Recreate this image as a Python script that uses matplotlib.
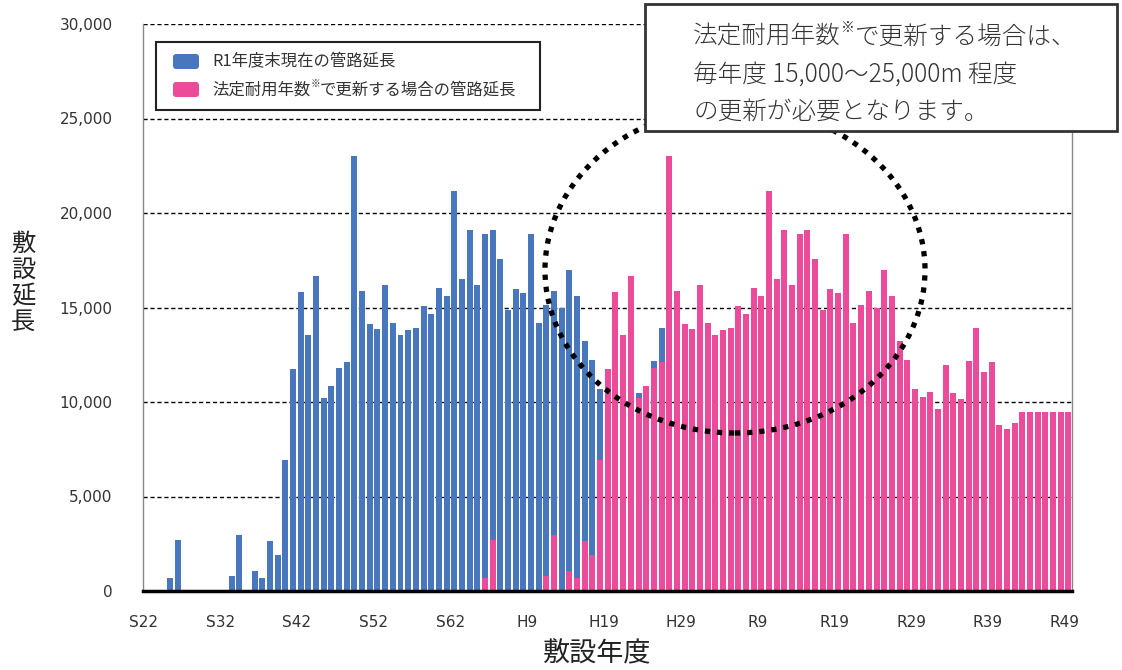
import matplotlib
matplotlib.use('Agg')
import matplotlib.pyplot as plt
from matplotlib.patches import Rectangle, Ellipse, FancyBboxPatch
from matplotlib.transforms import IdentityTransform
import numpy as np

plt.rcParams['font.family'] = ['DejaVu Sans', 'Noto Sans CJK JP']
CJK = ['Noto Sans CJK JP', 'DejaVu Sans']

# ---- data ----
tick_labels = ['S22', 'S32', 'S42', 'S52', 'S62', 'H9', 'H19', 'H29',
               'R9', 'R19', 'R29', 'R39', 'R49']

installed_r1 = [0, 0, 0, 700, 2690, 0, 60, 0, 0, 0,
                0, 770, 2970, 40, 1040, 670, 2640, 1880, 6930, 11770,
                15840, 13550, 16690, 10190, 10860, 11810, 12110, 23040, 15880, 14130,
                13870, 16190, 14190, 13550, 13830, 13900, 15080, 14660, 16020, 15610,
                21160, 16510, 19080, 16190, 18900, 19080, 17570, 14870, 15960, 15790,
                18890, 14200, 15150, 15860, 14980, 17000, 15590, 13220, 12210, 10680,
                10290, 10540, 9640, 11940, 10490, 10170, 12160, 13890, 11610, 12130,
                8780, 8570, 8870]

renewal = [0, 0, 0, 0, 0, 0, 0, 0, 0, 0,
           0, 0, 0, 0, 0, 0, 0, 0, 0, 0,
           0, 0, 0, 0, 0, 0, 0, 0, 0, 0,
           0, 0, 0, 0, 0, 0, 0, 0, 0, 0,
           0, 0, 0, 0, 700, 2690, 0, 60, 0, 0,
           0, 0, 770, 2970, 40, 1040, 670, 2640, 1880, 6930,
           11770, 15840, 13550, 16690, 10190, 10860, 11810, 12110, 23040, 15880,
           14130, 13870, 16190, 14190, 13550, 13830, 13900, 15080, 14660, 16020,
           15610, 21160, 16510, 19080, 16190, 18900, 19080, 17570, 14870, 15960,
           15790, 18890, 14200, 15150, 15860, 14980, 17000, 15590, 13220, 12210,
           10680, 10290, 10540, 9640, 11940, 10490, 10170, 12160, 13890, 11610,
           12130, 8780, 8570, 8870, 9450, 9450, 9450, 9450, 9450, 9450,
           9450]

legend_labels = ['R1年度末現在の管路延長', '法定耐用年数', '※', 'で更新する場合の管路延長']

BLUE = '#4877BD'
PINK = '#EC4A9A'

W, H = 1122, 670
fig = plt.figure(figsize=(W / 100, H / 100), dpi=100)
ax = fig.add_axes([143.3 / W, 1 - 591 / H, (1072.3 - 143.3) / W, (591 - 24) / H])

n = len(renewal)
x = np.arange(n)
ax.bar(x[:len(installed_r1)], installed_r1, width=0.78, color=BLUE, zorder=2, linewidth=0)
ax.bar(x, renewal, width=0.78, color=PINK, zorder=3, linewidth=0)

ax.set_xlim(-0.5, n - 0.5)
ax.set_ylim(0, 30000)
yt = list(range(0, 30001, 5000))
ax.set_yticks(yt)
ax.set_yticklabels([f'{v:,}' for v in yt])
for v in yt[1:]:
    ax.axhline(v, color='black', lw=1.0, ls=(0, (3, 2)), zorder=1)

ax.set_xticks(np.arange(0, n, 10) - 0.5)
ax.set_xticklabels(tick_labels)
ax.tick_params(length=0, labelsize=11, colors='#333333')
ax.tick_params(axis='x', pad=17)
ax.tick_params(axis='y', pad=22)

ax.spines['top'].set_visible(False)
ax.spines['left'].set_color('#888888')
ax.spines['right'].set_color('#888888')
ax.spines['left'].set_linewidth(1)
ax.spines['right'].set_linewidth(1)
ax.spines['bottom'].set_color('black')
ax.spines['bottom'].set_linewidth(2.5)
ax.spines['bottom'].set_zorder(5)

tr = IdentityTransform()


def Y(y):
    return H - y


# axis titles
fig.text(23, Y(283), '敷\n設\n延\n長', transform=tr, ha='center', va='center',
         fontsize=17.5, linespacing=1.0, family=CJK, color='#222222')
fig.text(597, Y(654), '敷設年度', transform=tr, ha='center', va='center',
         fontsize=19.5, family=CJK, color='#222222')

# legend box
fig.add_artist(Rectangle((156, Y(110)), 384, 68, transform=tr, facecolor='white',
                         edgecolor='#222222', lw=1.5, zorder=4))
fig.add_artist(FancyBboxPatch((173, Y(69)), 26, 15, boxstyle='round,pad=0,rounding_size=3',
                              transform=tr, facecolor=BLUE, edgecolor='none', zorder=5))
fig.add_artist(FancyBboxPatch((173, Y(97)), 26, 15, boxstyle='round,pad=0,rounding_size=3',
                              transform=tr, facecolor=PINK, edgecolor='none', zorder=5))
fig.text(212, Y(62), legend_labels[0], transform=tr, va='center', fontsize=11.8,
         family=CJK, color='#333333', zorder=6)
t1 = fig.text(212, Y(90), legend_labels[1], transform=tr, va='center', fontsize=11.8,
              family=CJK, color='#333333', zorder=6)
a2 = ax.annotate(legend_labels[2], xy=(1, 0.55), xycoords=t1, va='bottom', ha='left',
                 fontsize=7, family=CJK, color='#333333', annotation_clip=False)
a3 = ax.annotate(legend_labels[3], xy=(1, 0), xycoords=(a2, t1), va='bottom', ha='left',
                 fontsize=11.8, family=CJK, color='#333333', annotation_clip=False)
a2.remove(); a3.remove()
fig.add_artist(a2); fig.add_artist(a3)
a2.set_zorder(6); a3.set_zorder(6)

# ellipse highlighting the renewal peak
fig.add_artist(Ellipse((735, Y(270)), 380, 326, transform=tr, fill=False,
                       edgecolor='black', lw=3.8, ls=(0, (1.0, 1.3)), zorder=3))

# callout box
fig.add_artist(Rectangle((645, Y(131)), 472, 127, transform=tr, facecolor='white',
                         edgecolor='#333333', lw=2, zorder=4))
FS = 17.7
b1 = fig.text(693, Y(36), '法定耐用年数', transform=tr, va='center', fontsize=FS,
              family=CJK, color='#333333', fontweight='light', zorder=6)
b2 = ax.annotate('※', xy=(1, 0.55), xycoords=b1, va='bottom', ha='left', fontsize=10,
                 family=CJK, color='#333333', fontweight='light', annotation_clip=False)
b3 = ax.annotate('で更新する場合は、', xy=(1, 0), xycoords=(b2, b1), va='bottom', ha='left',
                 fontsize=FS, family=CJK, color='#333333', fontweight='light',
                 annotation_clip=False)
b2.remove(); b3.remove()
fig.add_artist(b2); fig.add_artist(b3)
b2.set_zorder(6); b3.set_zorder(6)
fig.text(693, Y(74), '毎年度 15,000〜25,000m 程度', transform=tr, va='center', fontsize=FS,
         family=CJK, color='#333333', fontweight='light', zorder=6)
fig.text(693, Y(111), 'の更新が必要となります。', transform=tr, va='center', fontsize=FS,
         family=CJK, color='#333333', fontweight='light', zorder=6)

fig.savefig('out.png', dpi=100)
